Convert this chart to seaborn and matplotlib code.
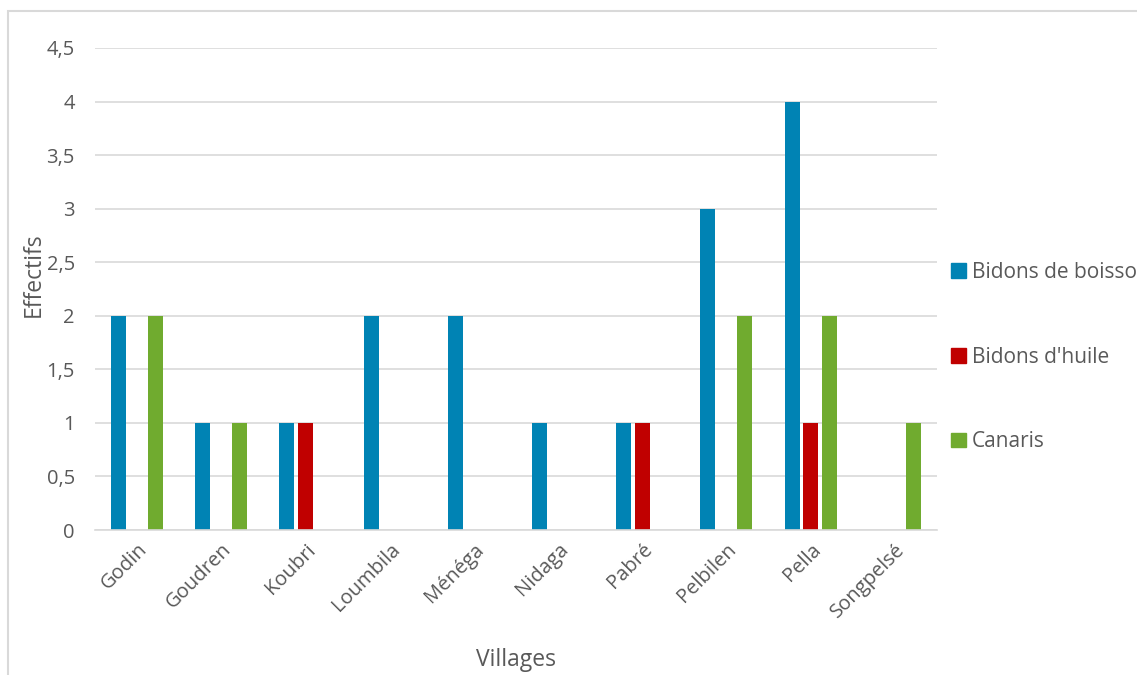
import pandas as pd
import matplotlib.pyplot as plt
import seaborn as sns
from matplotlib.patches import Rectangle
from matplotlib.ticker import FuncFormatter

villages = ["Godin", "Goudren", "Koubri", "Loumbila", "Ménéga", "Nidaga",
            "Pabré", "Pelbilen", "Pella", "Songpelsé"]
series = ["Bidons de boisson", "Bidons d'huile", "Canaris"]
bidons_boisson = [2, 1, 1, 2, 2, 1, 1, 3, 4, 0]
bidons_huile = [0, 0, 1, 0, 0, 0, 1, 0, 1, 0]
canaris = [2, 1, 0, 0, 0, 0, 0, 2, 2, 1]
colors = ["#0083B4", "#C00000", "#70AB2F"]

df = pd.DataFrame({
    "village": villages * 3,
    "serie": [s for s in series for _ in villages],
    "effectif": bidons_boisson + bidons_huile + canaris,
})

sns.set_style("white")
plt.rcParams["font.family"] = ["Open Sans", "DejaVu Sans"]
txt = "#595959"

fig = plt.figure(figsize=(11.37, 6.75), dpi=100)
ax = fig.add_axes([0.0836, 0.2148, 0.7404, 0.7141])

sns.barplot(data=df, x="village", y="effectif", hue="serie", palette=colors,
            width=0.66, gap=0.19, saturation=1, linewidth=0, ax=ax, legend=False)

ax.set_ylim(0, 4.5)
ax.set_yticks([i * 0.5 for i in range(10)])
ax.yaxis.set_major_formatter(FuncFormatter(lambda v, p: f"{v:g}".replace(".", ",")))
ax.grid(axis="y", color="#D9D9D9", linewidth=1.2)
ax.set_axisbelow(True)
for s in ["top", "right", "left"]:
    ax.spines[s].set_visible(False)
ax.spines["bottom"].set_color("#D9D9D9")
ax.spines["bottom"].set_linewidth(1.2)
ax.tick_params(axis="y", length=0, colors=txt, labelsize=14.5, pad=14.5)
ax.tick_params(axis="x", length=0, colors=txt, labelsize=14.5, pad=7)
plt.setp(ax.get_xticklabels(), rotation=45, ha="right", rotation_mode="anchor")

ax.set_xlabel("Villages", color=txt, fontsize=16.5)
ax.set_ylabel("Effectifs", color=txt, fontsize=16.5)
ax.xaxis.set_label_coords(0.5, -0.245)
ax.yaxis.set_label_coords(-0.058, 0.529)

handles = [Rectangle((0, 0), 1, 1, color=c) for c in colors]
fig.legend(handles, series, loc="center left", bbox_to_anchor=(0.82, 0.471),
           frameon=False, fontsize=15, labelcolor=txt, labelspacing=3.05,
           handlelength=0.7, handleheight=0.7, handletextpad=0.3)

fig.patches.append(Rectangle((8 / 1137, -0.1), 1.2, 1.1 - 11 / 675,
                             transform=fig.transFigure, fill=False,
                             edgecolor="#D9D9D9", linewidth=1.5))

fig.savefig("out.png", dpi=100)
